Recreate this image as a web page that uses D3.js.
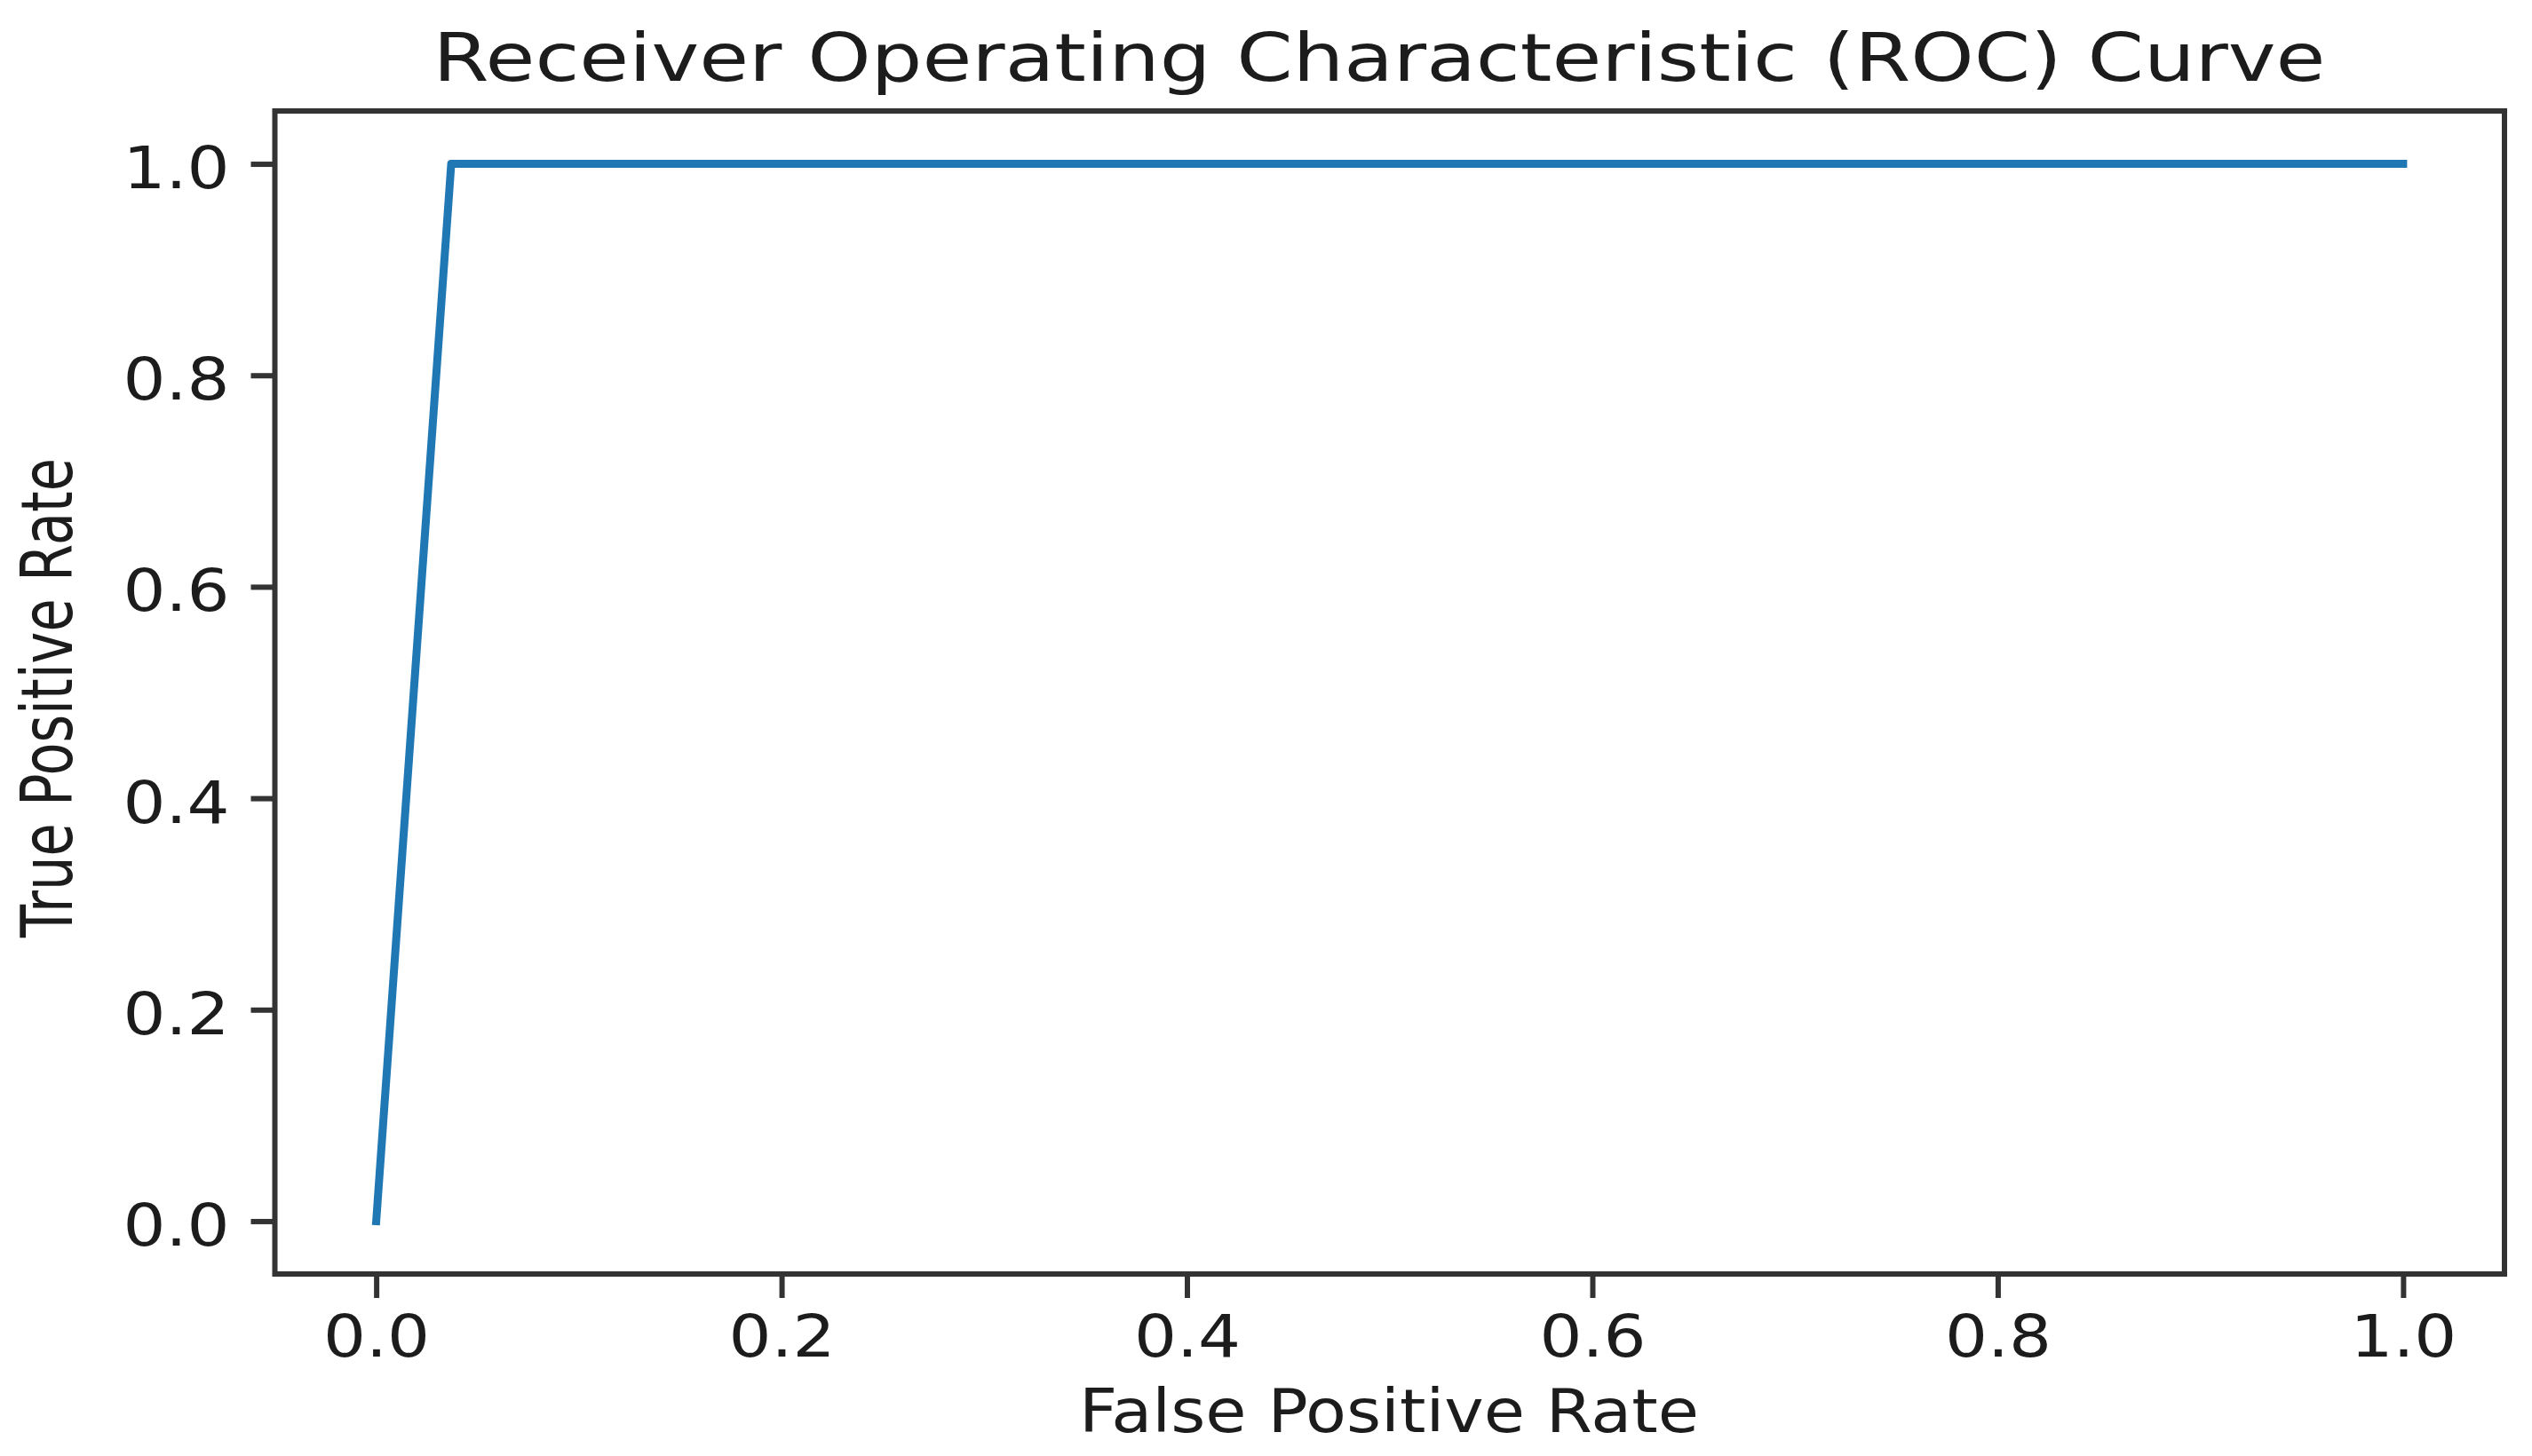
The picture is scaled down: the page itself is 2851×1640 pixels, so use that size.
<!DOCTYPE html>
<html><head><meta charset="utf-8">
<script src="https://cdn.jsdelivr.net/npm/d3@7"></script>
<style>html,body{margin:0;padding:0;background:#fff;} svg{display:block;} text{font-family:"DejaVu Sans",sans-serif;}</style>
</head><body>
<svg id="chart" width="2851" height="1640"></svg>
<script>
const fpr = [0.0, 0.037, 1.0];
const tpr = [0.0, 1.0, 1.0];
const xTicks = [0, 0.2, 0.4, 0.6, 0.8, 1.0];
const yTicks = [0, 0.2, 0.4, 0.6, 0.8, 1.0];
const xDomain = [-0.05, 1.05];
const yDomain = [-0.05, 1.05];
const titleText = "Receiver Operating Characteristic (ROC) Curve";
const xLabelText = "False Positive Rate";
const yLabelText = "True Positive Rate";

const m = {left: 309.5, right: 2820, top: 125, bottom: 1435};
const svg = d3.select("#chart");
svg.append("rect").attr("width", 2851).attr("height", 1640).attr("fill", "#fff");

const x = d3.scaleLinear().domain(xDomain).range([m.left, m.right]);
const y = d3.scaleLinear().domain(yDomain).range([m.bottom, m.top]);
const ink = "#333333";
const txt = "#1c1c1c";

// curve
const pts = fpr.map((f, i) => [f, tpr[i]]);
svg.append("path")
  .datum(pts)
  .attr("d", d3.line().x(d => x(d[0])).y(d => y(d[1])))
  .attr("fill", "none")
  .attr("stroke", "#1f77b4")
  .attr("stroke-width", 9)
  .attr("stroke-linecap", "square")
  .attr("stroke-linejoin", "round");

// x axis
const gx = svg.append("g").attr("transform", `translate(0,${m.bottom})`)
  .call(d3.axisBottom(x).tickValues(xTicks).tickFormat(d3.format(".1f")).tickSize(27));
gx.select(".domain").remove();
gx.selectAll(".tick line").attr("stroke", ink).attr("stroke-width", 6);
gx.selectAll(".tick text")
  .attr("y", 93).attr("dy", null)
  .attr("fill", txt).attr("font-size", 66)
  .attr("font-family", "DejaVu Sans")
  .attr("textLength", 120).attr("lengthAdjust", "spacingAndGlyphs");

// y axis
const gy = svg.append("g").attr("transform", `translate(${m.left},0)`)
  .call(d3.axisLeft(y).tickValues(yTicks).tickFormat(d3.format(".1f")).tickSize(27));
gy.select(".domain").remove();
gy.selectAll(".tick line").attr("stroke", ink).attr("stroke-width", 6);
gy.selectAll(".tick text")
  .attr("x", -51).attr("dy", 27)
  .attr("fill", txt).attr("font-size", 66)
  .attr("font-family", "DejaVu Sans")
  .attr("textLength", 120).attr("lengthAdjust", "spacingAndGlyphs");

// frame
svg.append("rect")
  .attr("x", m.left).attr("y", m.top)
  .attr("width", m.right - m.left).attr("height", m.bottom - m.top)
  .attr("fill", "none").attr("stroke", ink).attr("stroke-width", 6);

// title
svg.append("text")
  .attr("x", 1553).attr("y", 91)
  .attr("text-anchor", "middle")
  .attr("font-size", 74).attr("fill", txt)
  .attr("textLength", 2131).attr("lengthAdjust", "spacingAndGlyphs")
  .text(titleText);

// x label
svg.append("text")
  .attr("x", 1564).attr("y", 1613)
  .attr("text-anchor", "middle")
  .attr("font-size", 67).attr("fill", txt)
  .attr("textLength", 698).attr("lengthAdjust", "spacingAndGlyphs")
  .text(xLabelText);

// y label
svg.append("text")
  .attr("transform", "translate(81,786) rotate(-90)")
  .attr("text-anchor", "middle")
  .attr("font-size", 80).attr("fill", txt)
  .attr("textLength", 540).attr("lengthAdjust", "spacingAndGlyphs")
  .text(yLabelText);
</script>
</body></html>
